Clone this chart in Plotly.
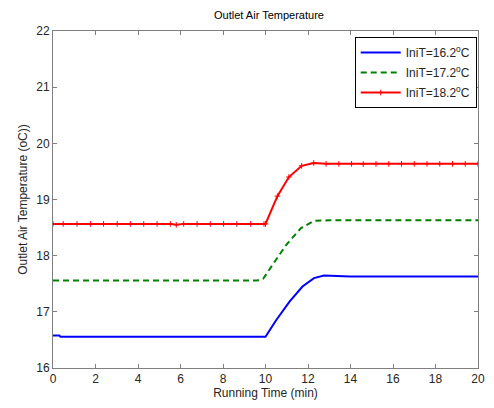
import plotly.graph_objects as go

# Data
blue_t = [0, 0.3, 0.35, 2, 4, 6, 8, 10.0, 10.5, 11.13, 11.74, 12.28, 12.75, 14, 16, 18, 20]
blue_T = [16.58, 16.58, 16.555, 16.555, 16.555, 16.555, 16.555, 16.555, 16.85, 17.18, 17.45, 17.60, 17.645, 17.63, 17.63, 17.63, 17.63]

green_t = [0, 2, 4, 6, 8, 9.6, 9.89, 10.28, 10.97, 11.67, 12.28, 13, 15, 17, 20]
green_T = [17.557, 17.557, 17.557, 17.557, 17.557, 17.557, 17.59, 17.81, 18.19, 18.49, 18.62, 18.63, 18.63, 18.63, 18.63]

red_t = [0, 0.48, 1.13, 1.76, 2.38, 3.02, 3.64, 4.27, 4.9, 5.52, 5.8, 6.15, 6.78, 7.4, 8.03, 8.65, 9.3, 9.93, 10.0,
         10.56, 11.1, 11.7, 12.27, 12.85, 13.45, 14.05, 14.6, 15.2, 15.8, 16.4, 17.0, 17.6, 18.2, 18.8, 19.4, 20.0]
red_T = [18.566, 18.566, 18.566, 18.566, 18.566, 18.566, 18.566, 18.566, 18.566, 18.566, 18.55, 18.566, 18.566,
         18.566, 18.566, 18.566, 18.566, 18.566, 18.566,
         19.06, 19.40, 19.60, 19.65, 19.635, 19.635, 19.635, 19.63, 19.635, 19.635, 19.635, 19.635, 19.635,
         19.635, 19.635, 19.635, 19.635]

names = ["IniT=16.2<sup>o</sup>C", "IniT=17.2<sup>o</sup>C", "IniT=18.2<sup>o</sup>C"]
x_ticks = list(range(0, 21, 2))
y_ticks = list(range(16, 23))

font_family = "Liberation Sans, Arial, sans-serif"
txt_color = "#262626"
axis_color = "#7f7f7f"

fig = go.Figure()
fig.add_trace(go.Scatter(x=blue_t, y=blue_T, mode="lines", name=names[0],
                         line=dict(color="#0000ff", width=2), legendgroup="a"))
fig.add_trace(go.Scatter(x=green_t, y=green_T, mode="lines", name=names[1],
                         line=dict(color="#008000", width=2, dash="6px,4px"), legendgroup="b"))
fig.add_trace(go.Scatter(x=red_t, y=red_T, mode="lines+markers", name=names[2],
                         line=dict(color="#ff0000", width=2),
                         marker=dict(symbol="cross-thin", size=4, color="#ff0000",
                                     line=dict(color="#ff0000", width=1)),
                         legendgroup="c"))

axis_common = dict(
    showgrid=False, zeroline=False, showline=True, linecolor=axis_color, linewidth=1,
    mirror="ticks", ticks="inside", ticklen=4, tickcolor=axis_color,
    tickfont=dict(family=font_family, size=12, color=txt_color),
)

W, H = 486, 400  # page body has an 8px margin in the browser
fig.update_layout(
    width=W, height=H,
    margin=dict(l=45, r=9, t=23, b=40),
    paper_bgcolor="white", plot_bgcolor="white",
    font=dict(family=font_family, size=11, color=txt_color),
    title=dict(text="Outlet Air Temperature", x=(45 + 477) / 2 / W, xanchor="center",
               y=1 - 7 / H, yanchor="middle", font=dict(size=11, color="#000000")),
    xaxis=dict(range=[0, 20], tickvals=x_ticks,
               title=dict(text="Running Time (min)", standoff=2,
                          font=dict(size=12, color=txt_color)),
               **axis_common),
    yaxis=dict(range=[16, 22], tickvals=y_ticks,
               title=dict(text="Outlet Air Temperature (oC))", standoff=6,
                          font=dict(size=12, color=txt_color)),
               **axis_common),
    legend=dict(x=0.997, y=0.982, xanchor="right", yanchor="top",
                bgcolor="white", bordercolor="#000000", borderwidth=1,
                font=dict(family=font_family, size=12, color=txt_color),
                traceorder="grouped", tracegroupgap=1, itemwidth=40),
    showlegend=True,
)

fig.write_html("out.html")
